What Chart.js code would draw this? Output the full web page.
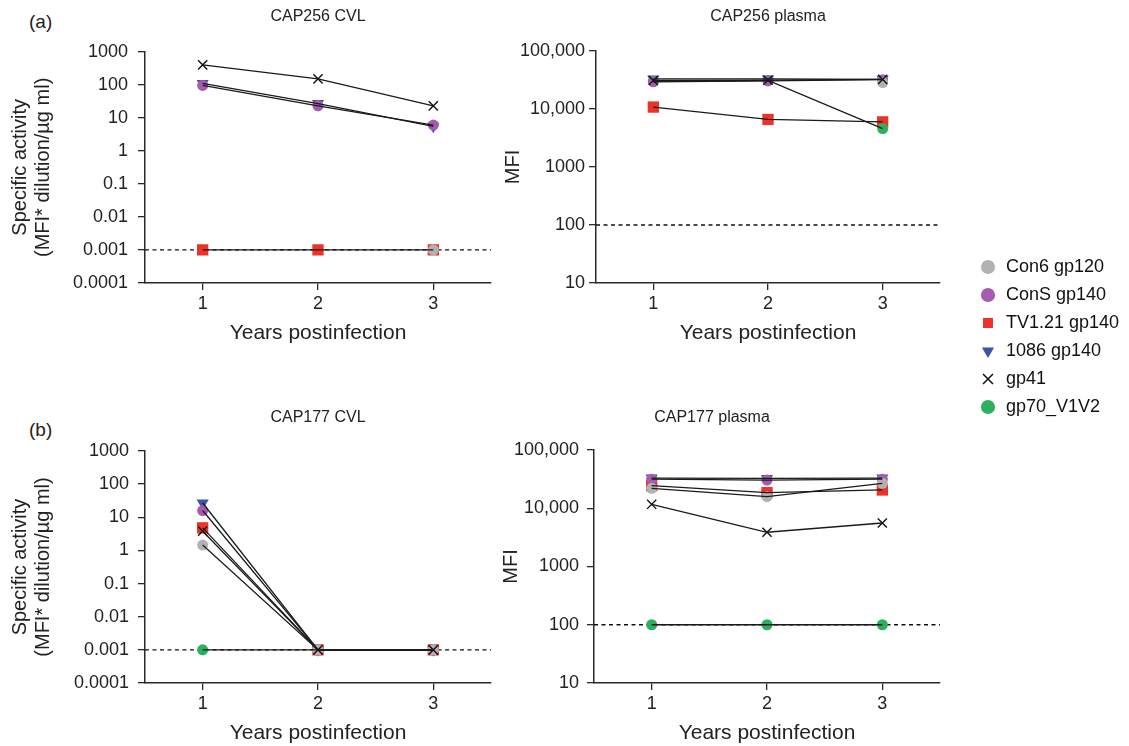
<!doctype html>
<html lang="en">
<head>
<meta charset="UTF-8" />
<title>CAP256 / CAP177 binding antibodies</title>
<script src="https://cdn.jsdelivr.net/npm/chart.js"></script>
<style>
    body { margin: 0; width: 1129px; height: 746px; overflow: hidden; background: #fff; position: relative; font-family: "Liberation Sans", Arial, sans-serif; }
    canvas { position: absolute; }
    .tag { position: absolute; font-size: 19px; color: #222; line-height: 22px; }
</style>
</head>
<body>
<div class="tag" style="left:29px; top:11px">(a)</div>
<div class="tag" style="left:29px; top:419px">(b)</div>
<canvas id="cvlA" width="500" height="350" style="left:0; top:0"></canvas>
<canvas id="plasmaA" width="466" height="350" style="left:484px; top:0"></canvas>
<canvas id="cvlB" width="500" height="350" style="left:0; top:400px"></canvas>
<canvas id="plasmaB" width="466" height="350" style="left:484px; top:400px"></canvas>
<canvas id="legend" width="160" height="400" style="left:969px; top:248px"></canvas>
<script>
// data
var years = [1, 2, 3];
var seriesNames = ["Con6 gp120", "ConS gp140", "TV1.21 gp140", "1086 gp140", "gp41", "gp70_V1V2"];
var seriesColors = ["#b2b2b2", "#a65bb1", "#ec3229", "#3c55a6", "#111111", "#2bb05f"];
var seriesStyles = ["circle", "circle", "rect", "triangle", "crossRot", "circle"];
var seriesRadius = [5.5, 5.5, 8, 7, 6.5, 5.5];
var seriesRotation = [0, 0, 0, 180, 0, 0];
var drawOrder = [2, 3, 5, 6, 1, 4]; // lower = drawn on top

// rows follow seriesNames
var cap256Cvl = [
    [null, null, 0.001],
    [95, 23, 6],
    [0.001, 0.001, 0.001],
    [110, 27, 5.5],
    [400, 150, 23],
    [null, null, null]
];
var cap256Plasma = [
    [null, null, 28500],
    [29500, 30500, 32000],
    [10800, 6600, 6000],
    [33000, 33000, 32500],
    [31000, 31500, 32500],
    [30000, 31000, 4600]
];
var cap177Cvl = [
    [1.45, 0.001, 0.001],
    [16, 0.001, 0.001],
    [4.8, 0.001, 0.001],
    [27, 0.001, 0.001],
    [3.8, 0.001, 0.001],
    [0.001, 0.001, 0.001]
];
var cap177Plasma = [
    [22000, 15800, 26800],
    [31500, 30500, 31500],
    [24400, 18500, 20600],
    [33000, 32500, 33000],
    [11700, 3870, 5580],
    [100, 100, 100]
];

var cvlTicks = [0.0001, 0.001, 0.01, 0.1, 1, 10, 100, 1000];
var cvlTickLabels = ["0.0001", "0.001", "0.01", "0.1", "1", "10", "100", "1000"];
var plasmaTicks = [10, 100, 1000, 10000, 100000];
var plasmaTickLabels = ["10", "100", "1000", "10,000", "100,000"];
var cvlCutoff = 0.001;
var plasmaCutoff = 100;

var fontFamily = "'Liberation Sans', Arial, sans-serif";
var axisColor = "#2a2a2a";
var textColor = "#222";

function makePanel(id, cfg) {
    var datasets = [];
    // detection limit line
    datasets.push({
        data: [{ x: 0.5, y: cfg.cutoff }, { x: 3.5, y: cfg.cutoff }],
        borderColor: "#111",
        borderWidth: 1.3,
        borderDash: [4, 3.5],
        pointRadius: 0,
        order: 20
    });
    seriesNames.forEach(function (name, i) {
        var pts = years.map(function (yr, j) {
            return { x: yr, y: cfg.values[i][j] };
        });
        // markers
        datasets.push({
            label: name,
            data: pts,
            showLine: false,
            pointStyle: seriesStyles[i],
            pointRadius: seriesRadius[i],
            pointRotation: seriesRotation[i],
            pointBackgroundColor: seriesColors[i],
            pointBorderColor: seriesColors[i],
            pointBorderWidth: seriesStyles[i] == "crossRot" ? 1.4 : 0,
            order: drawOrder[i]
        });
        // connecting lines sit on top of the markers
        datasets.push({
            data: pts,
            borderColor: "#1a1a1a",
            borderWidth: 1.3,
            pointRadius: 0,
            order: 0
        });
    });

    return new Chart(document.getElementById(id), {
        type: "line",
        data: { datasets: datasets },
        options: {
            responsive: false,
            animation: false,
            events: [],
            layout: { padding: { right: cfg.padRight, top: 0, bottom: 0, left: 0 } },
            plugins: {
                legend: { display: false },
                tooltip: { enabled: false },
                title: {
                    display: true,
                    text: cfg.title,
                    fullSize: cfg.titleFull,
                    color: textColor,
                    font: { family: fontFamily, size: 16, weight: "normal" },
                    padding: { top: cfg.titleTop, bottom: cfg.titleBottom }
                }
            },
            scales: {
                x: {
                    type: "linear",
                    min: 0.5,
                    max: 3.5,
                    afterBuildTicks: function (s) {
                        s.ticks = years.map(function (v) { return { value: v }; });
                    },
                    afterFit: function (s) { s.height = 67; },
                    ticks: {
                        autoSkip: false,
                        padding: 3,
                        color: textColor,
                        font: { family: fontFamily, size: 18 },
                        callback: function (v) { return String(v); }
                    },
                    grid: { drawOnChartArea: false, drawTicks: true, tickLength: 7, color: axisColor, lineWidth: 1.3 },
                    border: { display: true, color: axisColor, width: 1.5 },
                    title: {
                        display: true,
                        text: "Years postinfection",
                        color: textColor,
                        font: { family: fontFamily, size: 21 },
                        padding: { top: 0, bottom: 4.4 }
                    }
                },
                y: {
                    type: "logarithmic",
                    min: cfg.ticks[0],
                    max: cfg.ticks[cfg.ticks.length - 1],
                    afterBuildTicks: function (s) {
                        s.ticks = cfg.ticks.map(function (v) { return { value: v }; });
                    },
                    afterFit: function (s) { s.width = cfg.yWidth; },
                    ticks: {
                        autoSkip: false,
                        padding: cfg.tickPad,
                        color: textColor,
                        font: { family: fontFamily, size: 18 },
                        callback: function (v) { return cfg.tickLabels[cfg.ticks.indexOf(v)]; }
                    },
                    grid: { drawOnChartArea: false, drawTicks: true, tickLength: 7, color: axisColor, lineWidth: 1.3 },
                    border: { display: true, color: axisColor, width: 1.5 },
                    title: {
                        display: true,
                        text: cfg.yTitle,
                        color: textColor,
                        font: { family: fontFamily, size: 20, lineHeight: 1.15 },
                        padding: { top: cfg.yTitlePad, bottom: 0 }
                    }
                }
            }
        }
    });
}

var cvlTitle = ["Specific activity", "(MFI* dilution/\u00b5g ml)"];

makePanel("cvlA", {
    title: "CAP256 CVL", titleFull: false, titleTop: 7.4, titleBottom: 25.1,
    values: cap256Cvl, ticks: cvlTicks, tickLabels: cvlTickLabels, cutoff: cvlCutoff,
    yTitle: cvlTitle, yTitlePad: 8.5, yWidth: 145, tickPad: 10, padRight: 9
});
makePanel("plasmaA", {
    title: "CAP256 plasma", titleFull: false, titleTop: 7.4, titleBottom: 24.4,
    values: cap256Plasma, ticks: plasmaTicks, tickLabels: plasmaTickLabels, cutoff: plasmaCutoff,
    yTitle: "MFI", yTitlePad: 18, yWidth: 112, tickPad: 4, padRight: 10
});
makePanel("cvlB", {
    title: "CAP177 CVL", titleFull: false, titleTop: 8.4, titleBottom: 23.4,
    values: cap177Cvl, ticks: cvlTicks, tickLabels: cvlTickLabels, cutoff: cvlCutoff,
    yTitle: cvlTitle, yTitlePad: 8.5, yWidth: 145, tickPad: 9, padRight: 9
});
makePanel("plasmaB", {
    title: "CAP177 plasma", titleFull: true, titleTop: 8.4, titleBottom: 22.4,
    values: cap177Plasma, ticks: plasmaTicks, tickLabels: plasmaTickLabels, cutoff: plasmaCutoff,
    yTitle: "MFI", yTitlePad: 15.5, yWidth: 110, tickPad: 8, padRight: 10
});

// shared legend
new Chart(document.getElementById("legend"), {
    type: "line",
    data: {
        datasets: seriesNames.map(function (name, i) {
            return {
                label: name,
                data: [],
                pointStyle: seriesStyles[i],
                pointRotation: seriesRotation[i],
                pointBackgroundColor: seriesColors[i],
                pointBorderColor: seriesColors[i],
                pointBorderWidth: seriesStyles[i] == "crossRot" ? 1.5 : 0,
                backgroundColor: seriesColors[i],
                borderColor: seriesColors[i]
            };
        })
    },
    options: {
        responsive: false,
        animation: false,
        events: [],
        scales: { x: { display: false }, y: { display: false } },
        plugins: {
            tooltip: { enabled: false },
            legend: {
                position: "top",
                align: "start",
                labels: {
                    usePointStyle: true,
                    boxWidth: 18,
                    boxHeight: 10,
                    padding: 10,
                    color: "#111",
                    font: { family: fontFamily, size: 18 }
                }
            }
        }
    }
});
</script>
</body>
</html>
